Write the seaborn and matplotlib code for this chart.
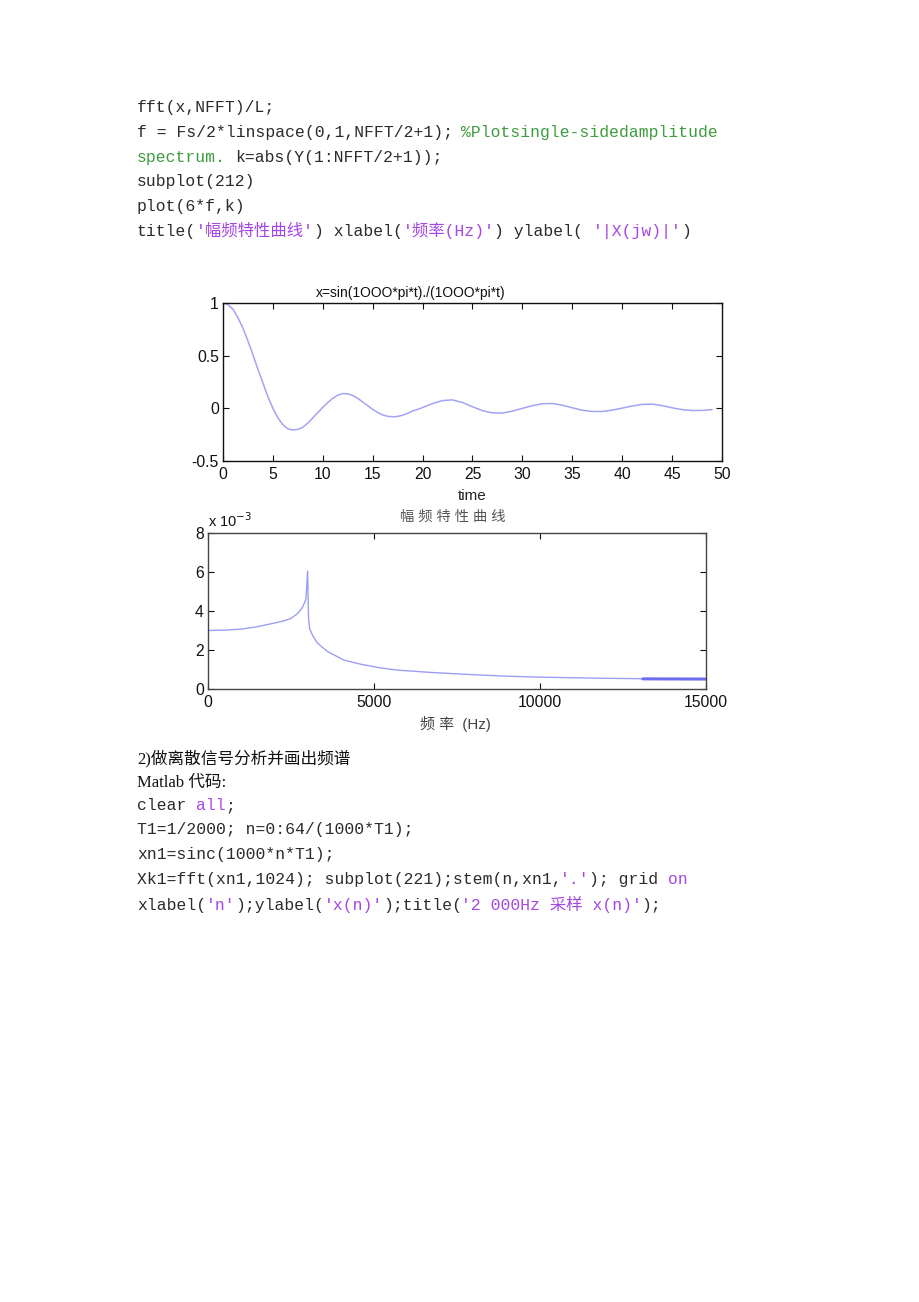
import numpy as np
import pandas as pd
import seaborn as sns
import matplotlib
matplotlib.use('Agg')
import matplotlib.pyplot as plt

# --- data ---
# top plot: x = sin(1000*pi*t)./(1000*pi*t)
t_vals = [0, 0.5, 1, 1.5, 2, 2.5, 3, 3.5, 4, 4.5, 5, 5.5, 6, 6.5, 7, 7.5, 8, 8.5, 9, 9.5,
          10, 10.5, 11, 11.5, 12, 12.5, 13, 13.5, 14, 14.5, 15, 15.5, 16, 16.5, 17, 17.5,
          18, 18.5, 19, 19.5, 20, 21, 22, 23, 24, 25, 26, 27, 28, 29, 30, 31, 32, 33, 34,
          35, 36, 37, 38, 39, 40, 41, 42, 43, 44, 45, 46, 47, 48, 49]
x_vals = [1.0, 0.985, 0.94, 0.86, 0.76, 0.64, 0.51, 0.37, 0.24, 0.11, 0.0, -0.09, -0.155,
          -0.195, -0.205, -0.2, -0.18, -0.14, -0.09, -0.04, 0.01, 0.055, 0.095, 0.125, 0.14,
          0.138, 0.122, 0.095, 0.06, 0.025, -0.01, -0.04, -0.063, -0.076, -0.08, -0.077,
          -0.065, -0.047, -0.025, -0.01, 0.008, 0.045, 0.074, 0.08, 0.055, 0.015, -0.022,
          -0.043, -0.045, -0.027, 0.0, 0.025, 0.044, 0.046, 0.03, 0.005, -0.018, -0.03,
          -0.03, -0.017, 0.002, 0.022, 0.037, 0.04, 0.026, 0.005, -0.012, -0.021, -0.02,
          -0.012]
top_xticks = [0, 5, 10, 15, 20, 25, 30, 35, 40, 45, 50]
top_yticks = [-0.5, 0, 0.5, 1]

# bottom plot: amplitude spectrum, k in units of 1e-3
freq = [0, 500, 1000, 1500, 2000, 2300, 2500, 2700, 2850, 2950, 3000, 3030, 3060, 3150,
        3300, 3600, 4100, 4600, 5200, 5700, 6700, 7800, 8800, 9900, 10900, 11900, 13000,
        13100, 14000, 15000]
k_amp = [3.0, 3.02, 3.07, 3.2, 3.38, 3.5, 3.62, 3.87, 4.2, 4.6, 6.05, 3.6, 3.1, 2.75,
         2.35, 1.92, 1.48, 1.27, 1.08, 0.97, 0.85, 0.75, 0.67, 0.61, 0.58, 0.55, 0.53,
         0.52, 0.515, 0.51]
bot_xticks = [0, 5000, 10000, 15000]
bot_yticks = [0, 2, 4, 6, 8]

sns.set_theme(style='ticks')
plt.rcParams['font.family'] = ['Liberation Sans', 'Noto Sans CJK SC']

W, H, DPI = 920, 1302, 100
fig = plt.figure(figsize=(W / DPI, H / DPI), dpi=DPI)
fig.patch.set_facecolor('white')

BLACK = '#2b2b2b'
PURPLE = '#a546e6'
GREEN = '#3d9c3d'
MONO = ['Liberation Mono', 'Noto Sans CJK SC']
SERIF = ['Liberation Serif', 'Noto Sans CJK SC']


def text_width(s, size):
    em = size * DPI / 72.0
    return sum(0.6 * em if ord(ch) < 128 else 1.0 * em for ch in s)


def code_line(y, parts, x0=137, size=11.8):
    x = x0
    for s, c in parts:
        stripped = s.lstrip(' ')
        x += text_width(s[:len(s) - len(stripped)], size)
        fig.text(x / W, 1 - y / H, stripped, color=c, family=MONO, fontsize=size,
                 ha='left', va='baseline')
        x += text_width(stripped, size)


# --- code text above the charts ---
code_line(112, [('fft(x,NFFT)/L;', BLACK)])
code_line(137, [('f = Fs/2*linspace(0,1,NFFT/2+1); ', BLACK),
                ('%Plotsingle-sidedamplitude', GREEN)])
code_line(162, [('spectrum.', GREEN), (' k=abs(Y(1:NFFT/2+1));', BLACK)])
code_line(186, [('subplot(212)', BLACK)])
code_line(211, [('plot(6*f,k)', BLACK)])
code_line(236, [('title(', BLACK), ("'幅频特性曲线'", PURPLE), (') xlabel(', BLACK),
                ("'频率(Hz)'", PURPLE), (') ylabel( ', BLACK), ("'|X(jw)|'", PURPLE),
                (')', BLACK)])

# --- top chart ---
df_top = pd.DataFrame({'t': t_vals, 'x': x_vals})
ax1 = fig.add_axes([223 / W, 1 - 461 / H, (722 - 223) / W, (461 - 303) / H])
sns.lineplot(data=df_top, x='t', y='x', ax=ax1, color='#a3a3f2', linewidth=1.1)
ax1.set_xlim(0, 50)
ax1.set_ylim(-0.5, 1)
ax1.set_xticks(top_xticks)
ax1.set_yticks(top_yticks)
ax1.set_yticklabels(['-0.5', '0', '0.5', '1'])
ax1.set_xlabel('time', fontsize=11, color='#222', labelpad=5)
ax1.set_ylabel('')
fig.text(411 / W, 1 - 293 / H, 'x=sin(1OOO*pi*t)./(1OOO*pi*t)', fontsize=10,
         ha='center', va='center', color='#111')

# --- bottom chart ---
df_bot = pd.DataFrame({'f': freq, 'k': k_amp})
ax2 = fig.add_axes([208 / W, 1 - 689 / H, (706 - 208) / W, (689 - 533) / H])
sns.lineplot(data=df_bot, x='f', y='k', ax=ax2, color='#9c9ef2', linewidth=1.0)
sns.lineplot(data=df_bot[df_bot['f'] >= 13100], x='f', y='k', ax=ax2,
             color='#6c6cf0', linewidth=2.2)
ax2.set_xlim(0, 15000)
ax2.set_ylim(0, 8)
ax2.set_xticks(bot_xticks)
ax2.set_yticks(bot_yticks)
ax2.set_xlabel('')
ax2.set_ylabel('')
fig.text(208 / W, 1 - 521 / H, 'x 10$^{-3}$', fontsize=10.5, ha='left', va='center',
         color='#111')
fig.text(453 / W, 1 - 517 / H, '幅 频 特 性 曲 线', fontsize=10.3, ha='center',
         va='center', color='#555')
fig.text(455 / W, 1 - 724 / H, '频 率  (Hz)', fontsize=10.8, ha='center', va='center',
         color='#444')

for ax, edge in ((ax1, '#111'), (ax2, '#444')):
    for sp in ax.spines.values():
        sp.set_visible(True)
        sp.set_color(edge)
        sp.set_linewidth(1.0)
    ax.tick_params(direction='in', length=4, width=0.8, top=True, right=True,
                   labelsize=11.3, pad=4, colors='#111')
    ax.tick_params(axis='y', pad=3)
    ax.set_facecolor('white')

# --- text below the charts ---
fig.text(137 / W, 1 - 763 / H, '2)做离散信号分析并画出频谱', family=SERIF, fontsize=12,
         ha='left', va='baseline', color='#111')
fig.text(137 / W, 1 - 787 / H, 'Matlab 代码:', family=SERIF, fontsize=12,
         ha='left', va='baseline', color='#111')
code_line(810, [('clear ', BLACK), ('all', PURPLE), (';', BLACK)])
code_line(834, [('T1=1/2000; n=0:64/(1000*T1);', BLACK)])
code_line(859, [('xn1=sinc(1000*n*T1);', BLACK)])
code_line(884, [("Xk1=fft(xn1,1024); subplot(221);stem(n,xn1,", BLACK), ("'.'", PURPLE),
                ('); grid ', BLACK), ('on', PURPLE)])
code_line(910, [('xlabel(', BLACK), ("'n'", PURPLE), (');ylabel(', BLACK),
                ("'x(n)'", PURPLE), (');title(', BLACK), ("'2 000Hz 采样 x(n)'", PURPLE),
                (');', BLACK)])

fig.savefig('out.png', dpi=DPI, facecolor='white')
